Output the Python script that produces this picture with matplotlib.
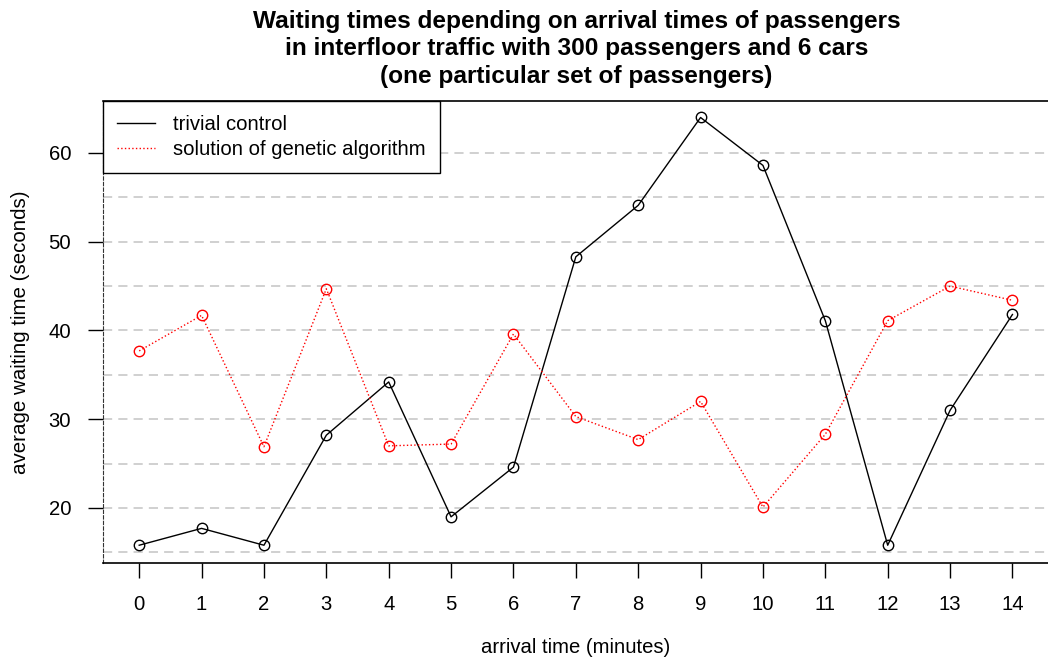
import numpy as np
import matplotlib
matplotlib.use("Agg")
import matplotlib.pyplot as plt

plt.rcParams['font.family'] = ['Liberation Sans', 'DejaVu Sans']

# arrival minute and mean waiting time for each control strategy
minutes = list(range(15))
trivial = [15.8, 17.7, 15.8, 28.2, 34.2, 19.0, 24.6, 48.3, 54.1, 64.0, 58.6, 41.1, 15.8, 31.0, 41.8]
genetic = [37.7, 41.7, 26.9, 44.7, 27.0, 27.2, 39.6, 30.3, 27.7, 32.0, 20.1, 28.3, 41.1, 45.0, 43.4]
y_ticks = [20, 30, 40, 50, 60]

fig = plt.figure(figsize=(10.48, 6.6), dpi=100)
ax = fig.add_axes([0.0983, 0.147, 0.9017, 0.700])

# dashed horizontal guides every 5 seconds
for g in np.arange(15, 65, 5):
    ax.axhline(g, color='#c4c4c4', lw=1.1, ls=(0, (6, 4)), zorder=0)

ax.plot(minutes, trivial, color='black', lw=1, marker='o', ms=7.5,
        mfc='none', mec='black', mew=1, label='trivial control')
ax.plot(minutes, genetic, color='red', lw=1, ls=':', marker='o', ms=7.5,
        mfc='none', mec='red', mew=1, label='solution of genetic algorithm')

ax.set_xlim(-0.58, 14.57)
ax.set_ylim(13.8, 65.86)
ax.set_xticks(minutes)
ax.set_yticks(y_ticks)
ax.tick_params(labelsize=14.6, length=11, width=1, direction='out', pad=12)

ax.spines['right'].set_visible(False)
ax.spines['left'].set_linestyle((0, (3, 2)))
ax.spines['left'].set_color('#333333')
for s in ('top', 'bottom'):
    ax.spines[s].set_linewidth(1.2)

ax.set_xlabel('arrival time (minutes)', fontsize=14.6, labelpad=17)
ax.set_ylabel('average waiting time (seconds)', fontsize=14.8, labelpad=13)

fig.text(0.55, 1 - 10 / 660,
         'Waiting times depending on arrival times of passengers\n'
         'in interfloor traffic with 300 passengers and 6 cars\n'
         '(one particular set of passengers)',
         fontsize=17.6, fontweight='bold', ha='center', va='top',
         multialignment='center', linespacing=1.24)

leg = ax.legend(loc='upper left', bbox_to_anchor=(0, 1), borderaxespad=0,
                fontsize=14.6, fancybox=False, framealpha=1, edgecolor='black',
                handlelength=1.85, handletextpad=0.9, borderpad=0.7,
                labelspacing=0.28, numpoints=1)
for h in leg.legend_handles:
    h.set_marker('')
leg.get_frame().set_linewidth(1)

fig.savefig('out.png', dpi=100)
